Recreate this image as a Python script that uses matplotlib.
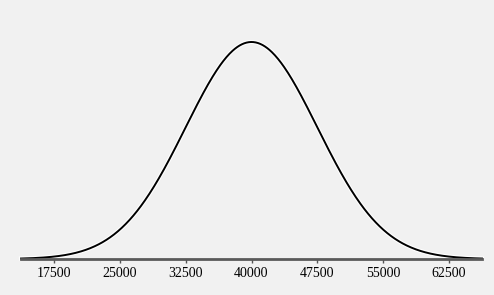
import numpy as np
import matplotlib
matplotlib.use("Agg")
import matplotlib.pyplot as plt
import matplotlib.patheffects as pe

# distribution: peak at 40000, ticks one sd apart
mean = 40000
sd = 7500
tick_values = [17500, 25000, 32500, 40000, 47500, 55000, 62500]
x_min, x_max = 13750, 66250

xs = np.linspace(x_min, x_max, 600)
ys = np.exp(-0.5 * ((xs - mean) / sd) ** 2) / (sd * np.sqrt(2 * np.pi))

fig = plt.figure(figsize=(4.94, 2.95), dpi=100)
fig.patch.set_facecolor("#f1f1f1")
ax = fig.add_axes([21 / 494, 36 / 295, 461 / 494, 217 / 295])
ax.patch.set_visible(False)

ax.plot(xs, ys, color="black", lw=1.4, clip_on=False,
        path_effects=[pe.Stroke(linewidth=3, foreground="white"), pe.Normal()])
ax.set_xlim(x_min, x_max)
ax.set_ylim(0, ys.max())

for side in ["top", "right", "left"]:
    ax.spines[side].set_visible(False)
ax.spines["bottom"].set_color("#5a5a5a")
ax.spines["bottom"].set_linewidth(2)
ax.set_yticks([])
ax.set_xticks(tick_values)
ax.set_xticklabels([str(t) for t in tick_values], fontfamily="Liberation Serif", fontsize=10)
ax.tick_params(axis="x", length=3, width=1, color="#555555", pad=3)

fig.savefig("out.png", dpi=100, facecolor=fig.get_facecolor())
